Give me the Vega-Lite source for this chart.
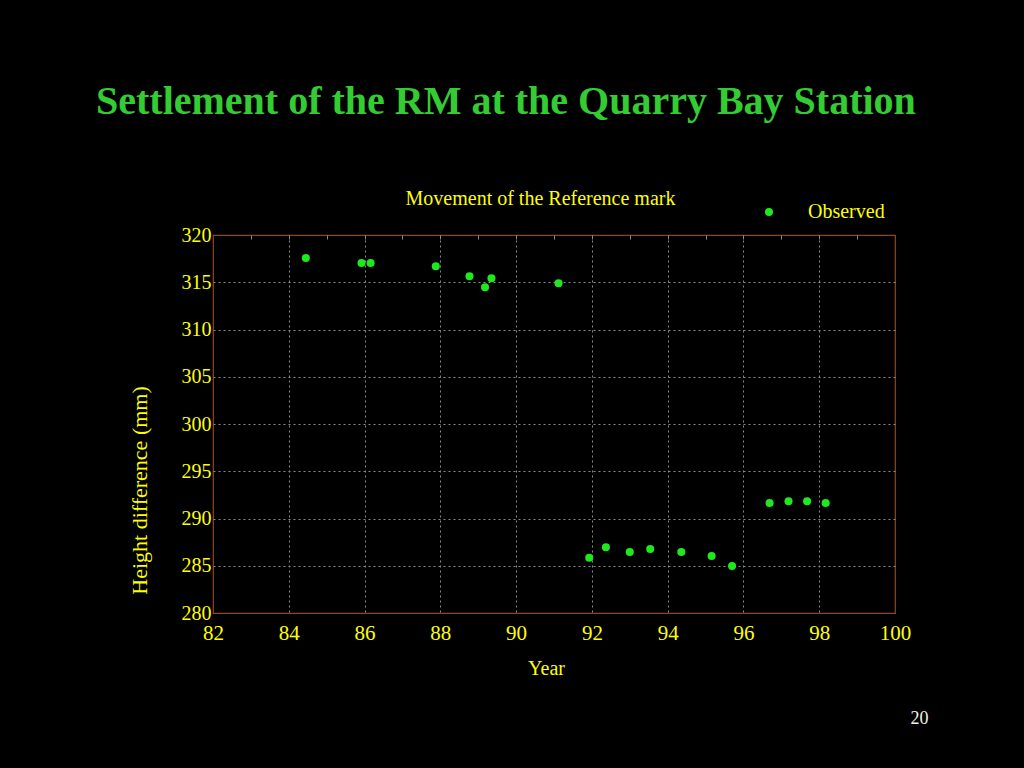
{
  "$schema": "https://vega.github.io/schema/vega-lite/v6.json",
  "width": 682,
  "height": 378,
  "autosize": {"type": "none"},
  "padding": {"left": 213, "top": 235, "right": 129, "bottom": 155},
  "background": "#000000",
  "title": {
    "text": "Settlement of the RM at the Quarry Bay Station",
    "anchor": "start",
    "frame": "group",
    "dx": -117,
    "font": "Liberation Serif",
    "fontSize": 40,
    "fontWeight": "bold",
    "color": "#33cc33",
    "offset": 66
  },
  "data": {
    "values": [
      {"year": 84.45, "height": 317.57},
      {"year": 85.92, "height": 317.04},
      {"year": 86.16, "height": 317.04},
      {"year": 87.88, "height": 316.69},
      {"year": 88.77, "height": 315.63},
      {"year": 89.18, "height": 314.47},
      {"year": 89.35, "height": 315.42},
      {"year": 91.12, "height": 314.89},
      {"year": 91.93, "height": 285.85},
      {"year": 92.37, "height": 286.95},
      {"year": 93.0, "height": 286.46},
      {"year": 93.54, "height": 286.77},
      {"year": 94.36, "height": 286.46},
      {"year": 95.16, "height": 286.03},
      {"year": 95.7, "height": 284.97},
      {"year": 96.69, "height": 291.64},
      {"year": 97.19, "height": 291.82},
      {"year": 97.68, "height": 291.82},
      {"year": 98.17, "height": 291.64}
    ]
  },
  "config": {
    "view": {"stroke": "#8c4a1c", "strokeWidth": 1.2},
    "axis": {
      "labelFont": "Liberation Serif",
      "titleFont": "Liberation Serif",
      "labelColor": "#ffff00",
      "titleColor": "#ffff00",
      "labelFontSize": 21,
      "titleFontSize": 20,
      "titleFontWeight": "normal",
      "domain": false,
      "ticks": false,
      "gridDash": [2, 3],
      "labelFlush": false,
      "labelOverlap": false
    },
    "legend": {
      "labelFont": "Liberation Serif",
      "labelColor": "#ffff00",
      "labelFontSize": 20,
      "padding": 0
    }
  },
  "resolve": {"axis": {"x": "independent", "y": "independent"}},
  "layer": [
    {
      "mark": {"type": "point", "filled": true, "shape": "circle", "size": 65, "opacity": 1},
      "encoding": {
        "x": {
          "field": "year",
          "type": "quantitative",
          "scale": {"domain": [82, 100], "nice": false, "zero": false},
          "axis": {
            "orient": "bottom",
            "values": [82, 84, 86, 88, 90, 92, 94, 96, 98, 100],
            "grid": true,
            "gridColor": {"condition": {"test": "datum.value == 82 || datum.value == 100", "value": "transparent"}, "value": "#8a8a8a"},
            "title": "Year",
            "labelPadding": 9,
            "titleX": 333,
            "titleY": 45,
            "titleAlign": "center",
            "titleBaseline": "top"
          }
        },
        "y": {
          "field": "height",
          "type": "quantitative",
          "scale": {"domain": [280, 320], "nice": false, "zero": false},
          "axis": {
            "orient": "left",
            "values": [280, 285, 290, 295, 300, 305, 310, 315, 320],
            "grid": true,
            "gridColor": {"condition": {"test": "datum.value == 280 || datum.value == 320", "value": "transparent"}, "value": "#8a8a8a"},
            "title": "Height difference (mm)",
            "labelPadding": 2,
            "labelFontSize": 20,
            "titleX": -62,
            "titleY": 255,
            "titleAngle": -90,
            "titleAlign": "center",
            "titleBaseline": "bottom",
            "titleFontSize": 22
          }
        },
        "color": {
          "datum": "Observed",
          "type": "nominal",
          "scale": {"range": ["#1de91d"]},
          "legend": {
            "orient": "none",
            "legendX": 546,
            "legendY": -33,
            "title": null,
            "symbolType": "circle",
            "symbolSize": 65,
            "labelOffset": 29
          }
        }
      }
    },
    {
      "mark": {"type": "point", "opacity": 0},
      "encoding": {
        "x": {
          "field": "year",
          "type": "quantitative",
          "axis": {
            "orient": "top",
            "labels": false,
            "grid": false,
            "ticks": true,
            "tickSize": -4,
            "tickColor": "#8a8a8a",
            "values": [83, 84, 85, 86, 87, 88, 89, 90, 91, 92, 93, 94, 95, 96, 97, 98, 99],
            "title": "Movement of the Reference mark",
            "titleX": 327,
            "titleY": -27,
            "titleAlign": "center",
            "titleBaseline": "bottom"
          }
        }
      }
    },
    {
      "mark": {"type": "point", "opacity": 0},
      "encoding": {
        "y": {
          "field": "height",
          "type": "quantitative",
          "axis": {
            "orient": "right",
            "labels": false,
            "grid": false,
            "title": "20",
            "titleAngle": 0,
            "titleX": 24,
            "titleY": 483,
            "titleAlign": "center",
            "titleBaseline": "middle",
            "titleColor": "#f0f0e6",
            "titleFontSize": 18
          }
        }
      }
    }
  ]
}
